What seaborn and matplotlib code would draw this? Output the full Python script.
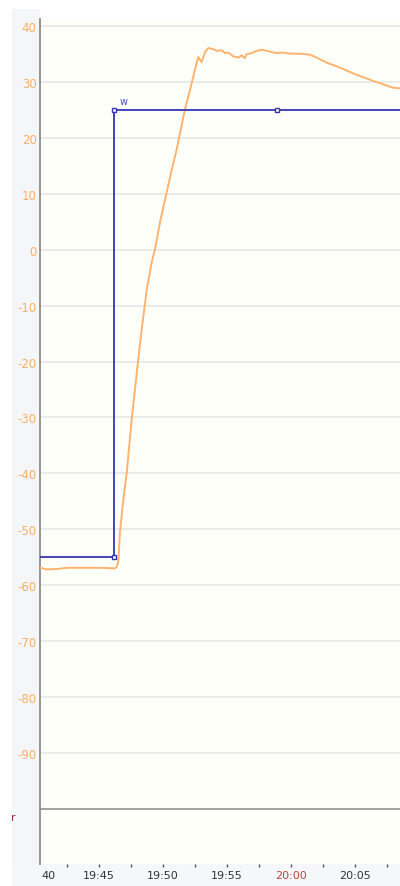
import matplotlib
matplotlib.use("Agg")
import matplotlib.pyplot as plt
import matplotlib.dates as mdates
from matplotlib.patches import Rectangle
from matplotlib.ticker import FixedLocator
import pandas as pd
import seaborn as sns

# ---- data ----
pv_times = ["19:40:15", "19:40:55", "19:41:48", "19:42:29", "19:43:45", "19:45:05",
            "19:46:15", "19:46:22", "19:46:30", "19:46:38", "19:46:54", "19:47:10",
            "19:47:33", "19:47:57", "19:48:20", "19:48:44", "19:49:07", "19:49:22",
            "19:49:46", "19:50:17", "19:50:41", "19:51:04", "19:51:43", "19:52:07",
            "19:52:30", "19:52:45", "19:53:01", "19:53:17", "19:53:32", "19:53:56",
            "19:54:12", "19:54:35", "19:54:51", "19:55:06", "19:55:30", "19:55:53",
            "19:56:09", "19:56:24", "19:56:32", "19:56:56", "19:57:19", "19:57:43",
            "19:58:06", "19:58:37", "19:58:53", "19:59:24", "19:59:55", "20:00:27",
            "20:00:58", "20:01:29", "20:02:00", "20:02:47", "20:03:50", "20:04:37",
            "20:05:23", "20:06:26", "20:07:13", "20:08:00", "20:08:31", "20:09:00"]
pv_values = [-56.8, -57.2, -57.1, -56.9, -56.9, -56.9,
             -57.0, -56.8, -55.8, -50.5, -44.6, -39.8,
             -30.3, -21.9, -14.2, -7.0, -2.2, 0.1,
             5.0, 10.3, 14.4, 18.0, 25.2, 28.7,
             32.3, 34.5, 33.6, 35.4, 36.1, 35.9,
             35.6, 35.7, 35.2, 35.3, 34.6, 34.4,
             34.8, 34.3, 35.0, 35.2, 35.6, 35.8,
             35.6, 35.3, 35.2, 35.3, 35.1, 35.1,
             35.05, 34.9, 34.4, 33.5, 32.6, 31.8,
             31.1, 30.2, 29.6, 29.0, 28.9, 28.6]

sp_times = ["19:39:00", "19:46:10", "19:46:10", "19:58:54", "20:10:00"]
sp_values = [-55, -55, 25, 25, 25]
sp_marker_idx = [1, 2, 3]
sp_label = "w"

y_ticks = [40, 30, 20, 10, 0, -10, -20, -30, -40, -50, -60, -70, -80, -90]
x_ticks = ["19:45", "19:50", "19:55", "20:00", "20:05"]
x_minor = ["19:42:30", "19:47:30", "19:52:30", "19:57:30", "20:02:30", "20:07:30"]
ref_line_value = -100
ref_label = "r"

day = "2024-01-01 "
pv = pd.DataFrame({"t": pd.to_datetime([day + s for s in pv_times]), "v": pv_values})
sp = pd.DataFrame({"t": pd.to_datetime([day + s for s in sp_times]), "v": sp_values})

# ---- figure ----
sns.set_theme(style="white")
plt.rcParams["font.family"] = ["DejaVu Sans"]
W, H = 400, 887
fig = plt.figure(figsize=(W / 100, H / 100), dpi=100, facecolor="white")

# light panel strips (behind the axes)
fig.patches.append(Rectangle((12 / W, 0), 28 / W, (H - 10) / H, transform=fig.transFigure,
                             facecolor="#f4f6fa", edgecolor="none", zorder=-5))
fig.patches.append(Rectangle((12 / W, 0), (W - 12) / W, 22 / H, transform=fig.transFigure,
                             facecolor="#f6f7fa", edgecolor="none", zorder=-5))

ax = fig.add_axes([40 / W, 22 / H, 360 / W, (865 - 20) / H])
ax.set_facecolor("#fffffa")

orange = "#ffb36e"
blue = "#3535b0"

for yv in y_ticks:
    ax.axhline(yv, color="#e6e6e6", lw=1.2, zorder=1)
ax.axhline(ref_line_value, color="#9a9a9a", lw=1.3, zorder=1)

sns.lineplot(data=pv, x="t", y="v", ax=ax, color=orange, lw=1.4, sort=False,
             estimator=None, errorbar=None, zorder=3)
sns.lineplot(data=sp, x="t", y="v", ax=ax, color=blue, lw=1.3, sort=False,
             estimator=None, errorbar=None, zorder=4,
             marker="s", markevery=sp_marker_idx, markersize=3.2,
             markerfacecolor="white", markeredgecolor=blue, markeredgewidth=1.0)

ax.annotate(sp_label, xy=(sp["t"][2], sp["v"][2]), xytext=(4, 3), textcoords="offset points",
            color="#4a4ac4", fontsize=7, ha="left", va="bottom")

ax.set_xlim(pd.Timestamp(day + "19:40:23"), pd.Timestamp(day + "20:08:31"))
ax.set_ylim(-109.9, 41.3)

ax.set_yticks(y_ticks)
ax.set_yticklabels([str(v) for v in y_ticks])
ax.tick_params(axis="y", length=0, pad=2.5, labelsize=8.5, labelcolor="#f7b069", left=True)

xt = [mdates.date2num(pd.Timestamp(day + s)) for s in x_ticks]
ax.xaxis.set_major_locator(FixedLocator(xt))
ax.set_xticklabels(x_ticks)
ax.xaxis.set_minor_locator(FixedLocator([mdates.date2num(pd.Timestamp(day + s)) for s in x_minor]))
ax.tick_params(axis="x", which="both", direction="out", length=2.5, width=1, color="#555555",
               pad=1.5, labelsize=8, labelcolor="#333333", bottom=True)
for lab in ax.get_xticklabels():
    if lab.get_text() == "20:00":
        lab.set_color("#c0443a")

ax.set_xlabel("")
ax.set_ylabel("")
for s in ["top", "right", "bottom"]:
    ax.spines[s].set_visible(False)
ax.spines["left"].set_color("#8c8c8c")
ax.spines["left"].set_linewidth(1.3)

# clipped left-most time label
fig.text(41 / W, 1 - 876 / H, "40", fontsize=8, color="#333333", ha="left", va="center")
# reference line label
fig.text(11 / W, 1 - 818 / H, ref_label, fontsize=8, color="#a03048", ha="left", va="center")

fig.savefig("out.png", dpi=100, facecolor=fig.get_facecolor())
